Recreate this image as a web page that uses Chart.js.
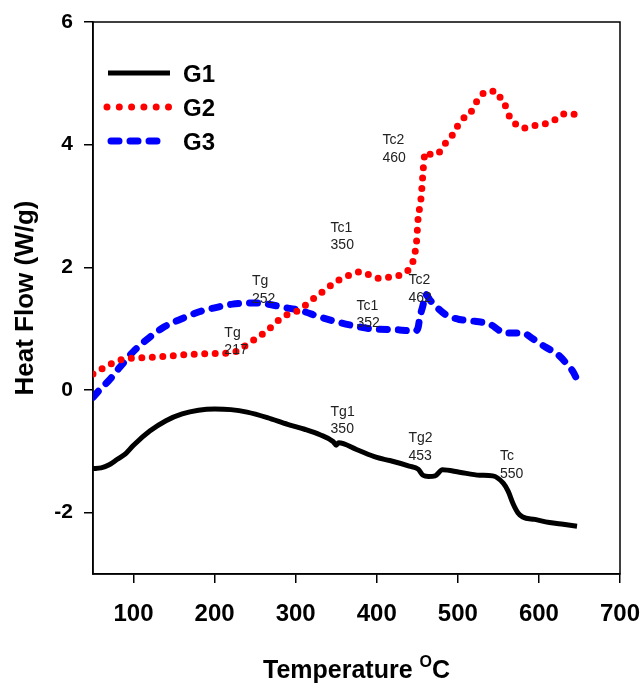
<!DOCTYPE html>
<html>
<head>
<meta charset="utf-8">
<script src="https://cdn.jsdelivr.net/npm/chart.js@4"></script>
<style>
    body { margin: 0; background: #fff; }
    canvas { display: block; }
</style>
</head>
<body>
<canvas id="dscChart" width="644" height="683"></canvas>
<script>
// tick labels
const xTicks = [100, 200, 300, 400, 500, 600, 700];
const yTicks = [-2, 0, 2, 4, 6];

// G1 curve
const g1Temp = [50, 60, 70, 80, 90, 100, 120, 140, 160, 180, 200, 220, 240, 265, 290, 311, 330, 346, 350, 353, 375, 400, 416, 440, 451, 457, 464, 472, 481, 502, 527, 543, 556, 562, 568, 574, 580, 595, 613, 630, 647];
const g1Flow = [-1.28, -1.27, -1.22, -1.13, -1.04, -0.90, -0.67, -0.50, -0.39, -0.33, -0.31, -0.32, -0.36, -0.45, -0.56, -0.64, -0.73, -0.84, -0.90, -0.86, -0.97, -1.10, -1.15, -1.24, -1.29, -1.39, -1.41, -1.40, -1.30, -1.34, -1.39, -1.40, -1.52, -1.65, -1.85, -2.00, -2.07, -2.11, -2.16, -2.19, -2.22];

// G2 curve
const g2Temp = [50, 59, 70, 79, 90, 102, 130, 170, 210, 222, 243, 264, 284, 305, 318, 333, 345, 354, 370, 381, 392, 404, 416, 428, 437, 444, 447, 449, 450, 451, 453, 455, 456, 457, 458, 460, 469, 479, 485, 493, 499, 506, 515, 521, 527, 537, 548, 553, 560, 564, 573, 581, 591, 602, 614, 623, 633, 642, 647];
const g2Flow = [0.26, 0.33, 0.41, 0.47, 0.51, 0.52, 0.54, 0.58, 0.60, 0.61, 0.77, 0.96, 1.19, 1.31, 1.45, 1.60, 1.72, 1.80, 1.89, 1.93, 1.87, 1.82, 1.84, 1.87, 1.93, 2.07, 2.23, 2.41, 2.60, 2.80, 2.98, 3.18, 3.37, 3.54, 3.72, 3.88, 3.83, 3.90, 4.03, 4.15, 4.29, 4.42, 4.51, 4.65, 4.78, 4.87, 4.87, 4.75, 4.60, 4.45, 4.32, 4.27, 4.31, 4.32, 4.37, 4.43, 4.51, 4.50, 4.48];

// G3 curve
const g3Temp = [50, 58, 70, 83, 100, 120, 138, 161, 182, 200, 222, 249, 270, 284, 305, 330, 354, 367, 392, 428, 447, 451, 453, 457, 460, 466, 474, 486, 502, 521, 540, 550, 556, 568, 580, 593, 608, 624, 636, 642, 647];
const g3Flow = [-0.12, 0.0, 0.16, 0.37, 0.63, 0.86, 1.03, 1.17, 1.28, 1.34, 1.40, 1.42, 1.39, 1.35, 1.30, 1.19, 1.10, 1.06, 1.00, 0.98, 0.96, 1.02, 1.18, 1.38, 1.56, 1.46, 1.35, 1.22, 1.15, 1.12, 1.07, 0.98, 0.93, 0.93, 0.93, 0.83, 0.70, 0.57, 0.40, 0.30, 0.17];

// annotations: text lines and where they sit (temperature, heat flow)
const noteText = [["Tc2", "460"], ["Tc1", "350"], ["Tc2", "462"], ["Tc1", "352"], ["Tg", "252"], ["Tg", "217"], ["Tg1", "350"], ["Tg2", "453"], ["Tc", "550"]];
const noteTemp = [407, 343, 439, 375, 246, 212, 343, 439, 552];
const noteFlow = [4.07, 2.64, 1.79, 1.37, 1.77, 0.93, -0.36, -0.79, -1.08];

const seriesNames = ["G1", "G2", "G3"];

function toPoints(xs, ys) {
    return xs.map((x, i) => ({ x: x, y: ys[i] }));
}

function setLineStyle(ctx, i) {
    ctx.lineWidth = i === 0 ? 5 : 7;
    ctx.lineCap = i === 0 ? "butt" : "round";
    ctx.strokeStyle = ["#000", "#ff0000", "#0000ff"][i];
    if (i === 1) ctx.setLineDash([0, 12.3]);
    else if (i === 2) ctx.setLineDash([8, 11]);
    else ctx.setLineDash([]);
}

const extras = {
    id: "extras",
    beforeDatasetsDraw(chart) {
        const ctx = chart.ctx;
        const a = chart.chartArea;
        ctx.save();
        ctx.strokeStyle = "#000";
        ctx.lineWidth = 1.5;
        ctx.strokeRect(a.left, a.top, a.right - a.left, a.bottom - a.top);
        ctx.restore();
    },
    afterDraw(chart) {
        const ctx = chart.ctx;
        const a = chart.chartArea;
        const xs = chart.scales.x;
        const ys = chart.scales.y;
        ctx.save();

        // legend
        seriesNames.forEach((name, i) => {
            const y = 73 + i * 34;
            ctx.save();
            setLineStyle(ctx, i);
            ctx.beginPath();
            if (i === 1) {
                ctx.moveTo(107, y);
                ctx.lineTo(170, y);
            } else if (i === 2) {
                ctx.moveTo(111, y);
                ctx.lineTo(168, y);
            } else {
                ctx.moveTo(108, y);
                ctx.lineTo(170, y);
            }
            ctx.stroke();
            ctx.restore();
            ctx.fillStyle = "#000";
            ctx.font = "bold 24px 'Liberation Sans', Arial, sans-serif";
            ctx.textBaseline = "alphabetic";
            ctx.textAlign = "left";
            ctx.fillText(name, 183, y + 9);
        });

        // annotations
        ctx.font = "14px 'Liberation Sans', Arial, sans-serif";
        ctx.fillStyle = "#222";
        ctx.textBaseline = "middle";
        noteText.forEach((lines, i) => {
            const px = xs.getPixelForValue(noteTemp[i]);
            const py = ys.getPixelForValue(noteFlow[i]);
            lines.forEach((t, j) => ctx.fillText(t, px, py + j * 17.5));
        });

        // axis titles
        ctx.fillStyle = "#000";
        ctx.textBaseline = "alphabetic";
        ctx.font = "bold 25px 'Liberation Sans', Arial, sans-serif";
        const main = "Temperature ";
        const wMain = ctx.measureText(main).width;
        ctx.font = "bold 16px 'Liberation Sans', Arial, sans-serif";
        const wSup = ctx.measureText("O").width;
        ctx.font = "bold 25px 'Liberation Sans', Arial, sans-serif";
        const wC = ctx.measureText("C").width;
        let x0 = (a.left + a.right) / 2 - (wMain + wSup + wC) / 2;
        ctx.fillText(main, x0, 678);
        ctx.font = "bold 16px 'Liberation Sans', Arial, sans-serif";
        ctx.fillText("O", x0 + wMain, 667);
        ctx.font = "bold 25px 'Liberation Sans', Arial, sans-serif";
        ctx.fillText("C", x0 + wMain + wSup, 678);

        ctx.font = "bold 26px 'Liberation Sans', Arial, sans-serif";
        ctx.translate(33, (a.top + a.bottom) / 2);
        ctx.rotate(-Math.PI / 2);
        ctx.textAlign = "center";
        ctx.fillText("Heat Flow (W/g)", 0, 0);
        ctx.restore();
    }
};

const datasets = [
    { data: toPoints(g1Temp, g1Flow), borderColor: "#000", borderWidth: 5, borderCapStyle: "butt" },
    { data: toPoints(g2Temp, g2Flow), borderColor: "#ff0000", borderWidth: 7, borderCapStyle: "round", borderDash: [0, 10.5] },
    { data: toPoints(g3Temp, g3Flow), borderColor: "#0000ff", borderWidth: 7, borderCapStyle: "round", borderDash: [8, 11] }
].map((d, i) => Object.assign(d, {
    label: seriesNames[i],
    pointRadius: 0,
    fill: false,
    cubicInterpolationMode: "monotone"
}));

new Chart(document.getElementById("dscChart").getContext("2d"), {
    type: "line",
    data: { datasets: datasets },
    options: {
        responsive: false,
        devicePixelRatio: 1,
        animation: false,
        layout: { padding: { top: 22, right: 24, left: 0, bottom: 0 } },
        plugins: {
            legend: { display: false },
            tooltip: { enabled: false }
        },
        scales: {
            x: {
                type: "linear",
                min: 50,
                max: 700,
                afterBuildTicks: scale => { scale.ticks = xTicks.map(v => ({ value: v })); },
                afterFit: scale => {
                    scale.height = 109;
                    scale.paddingLeft = 0;
                    scale.paddingRight = 0;
                },
                grid: { drawOnChartArea: false, drawTicks: true, tickLength: 9, color: "#000", lineWidth: 1.5 },
                border: { display: true, color: "#000", width: 1.5 },
                ticks: {
                    color: "#000",
                    padding: 17,
                    maxRotation: 0,
                    font: { family: "'Liberation Sans', Arial, sans-serif", size: 24, weight: "bold" }
                }
            },
            y: {
                type: "linear",
                min: -3,
                max: 6,
                afterBuildTicks: scale => { scale.ticks = yTicks.map(v => ({ value: v })); },
                afterFit: scale => {
                    scale.width = 93;
                    scale.paddingTop = 0;
                    scale.paddingBottom = 0;
                },
                grid: { drawOnChartArea: false, drawTicks: true, tickLength: 9, color: "#000", lineWidth: 1.5 },
                border: { display: true, color: "#000", width: 1.5 },
                ticks: {
                    color: "#000",
                    padding: 11,
                    font: { family: "'Liberation Sans', Arial, sans-serif", size: 21, weight: "bold" }
                }
            }
        }
    },
    plugins: [extras]
});
</script>
</body>
</html>
